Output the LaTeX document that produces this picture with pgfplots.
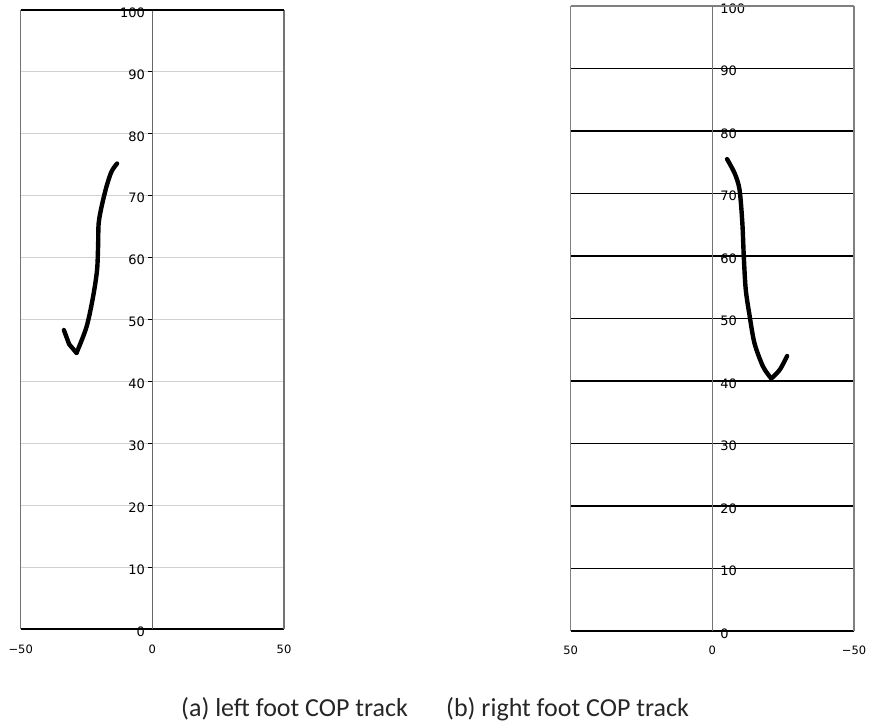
\documentclass[border=0pt]{standalone}
\usepackage{fontspec}
\setmainfont{DejaVu Sans}
\newfontfamily\capfont{Carlito}
\usepackage{pgfplots}
\pgfplotsset{compat=1.18}
\begin{document}
\begin{tikzpicture}[x=1pt,y=1pt]
\useasboundingbox (0,0) rectangle (870,724);
% ---------- left foot ----------
\begin{axis}[
  at={(20.7pt,95pt)}, anchor=south west,
  scale only axis, width=263.3pt, height=619pt,
  xmin=-50, xmax=50, ymin=0, ymax=100,
  axis x line=bottom, axis y line=middle,
  hide obscured x ticks=false, hide obscured y ticks=false,
  x axis line style={-, black, line width=1.6pt},
  y axis line style={-, black!60, line width=1.3pt},
  xtick={-50,0,50}, xticklabels={−50,0,50}, xtick style={draw=none},
  ytick={0,10,...,90}, extra y ticks={100},
  extra y tick style={grid=none},
  ytick style={black, line width=1.2pt},
  major tick length=4pt, tick align=outside,
  ymajorgrids, grid style={black!18, line width=0.9pt},
  /pgf/number format/assume math mode=true,
  xticklabel style={font=\fontsize{11.5}{14}\selectfont, yshift=-8pt},
  yticklabel style={font=\fontsize{13}{15}\selectfont, yshift=-2.5pt, xshift=0pt},
  clip=false,
]
\draw[black!55, line width=1.4pt] (axis cs:-50,0) -- (axis cs:-50,100);
\draw[black!55, line width=1.4pt] (axis cs:50,0) -- (axis cs:50,100);
\draw[black, line width=1.6pt] (axis cs:-50,100) -- (axis cs:50,100);
\addplot[black, line width=4.4pt, line cap=round, line join=round] coordinates {
(-33.6,48.3) (-31.6,46.0) (-28.8,44.6)
};
\addplot[black, line width=4.4pt, smooth, line cap=round, line join=round] coordinates {
(-28.8,44.6) (-25.0,48.8) (-22.5,53.7) (-21.0,58.0) (-20.6,62.0) (-20.4,65.5) (-19.3,68.2) (-17.4,71.5) (-15.5,73.9) (-13.4,75.2)
};
\end{axis}
% ---------- right foot ----------
\begin{axis}[
  at={(570.7pt,93pt)}, anchor=south west,
  scale only axis, width=283.3pt, height=625pt,
  xmin=-50, xmax=50, ymin=0, ymax=100, x dir=reverse,
  axis x line=bottom, axis y line=middle,
  hide obscured x ticks=false, hide obscured y ticks=false,
  x axis line style={-, black, line width=1.4pt},
  y axis line style={-, black!55, line width=1.3pt},
  xtick={-50,0,50}, xticklabels={−50,0,50}, xtick style={draw=none},
  ytick={0,10,...,90}, extra y ticks={100},
  extra y tick style={grid=none},
  ytick style={black, line width=1.2pt},
  major tick length=3pt,
  ymajorgrids, grid style={black, line width=1.5pt},
  /pgf/number format/assume math mode=true,
  xticklabel style={font=\fontsize{11.5}{14}\selectfont, yshift=-10pt},
  yticklabel style={font=\fontsize{13}{15}\selectfont, anchor=west, yshift=-2.5pt, xshift=6pt},
  clip=false,
]
\draw[black!50, line width=1.3pt] (axis cs:-50,0) -- (axis cs:-50,100);
\draw[black!50, line width=1.3pt] (axis cs:50,0) -- (axis cs:50,100);
\draw[black!50, line width=1.3pt] (axis cs:-50,100) -- (axis cs:50,100);
\addplot[black, line width=4.4pt, smooth, line cap=round, line join=round] coordinates {
(-5.2,75.5) (-7.9,73.2) (-9.6,70.6) (-10.6,65.2) (-11.1,59.9) (-11.8,54.6) (-13.2,50.3) (-14.9,46.0) (-17.9,42.3) (-20.8,40.4)
};
\addplot[black, line width=4.4pt, smooth, line cap=round, line join=round] coordinates {
(-20.8,40.4) (-23.8,41.8) (-26.4,44.0)
};
\end{axis}
\node[anchor=base west, font=\capfont\fontsize{26}{30}\selectfont, text=black!85, inner sep=0pt] at (181,8) {(a) left foot COP track};
\node[anchor=base west, font=\capfont\fontsize{26}{30}\selectfont, text=black!85, inner sep=0pt] at (446,8) {(b) right foot COP track};
\end{tikzpicture}
\end{document}
